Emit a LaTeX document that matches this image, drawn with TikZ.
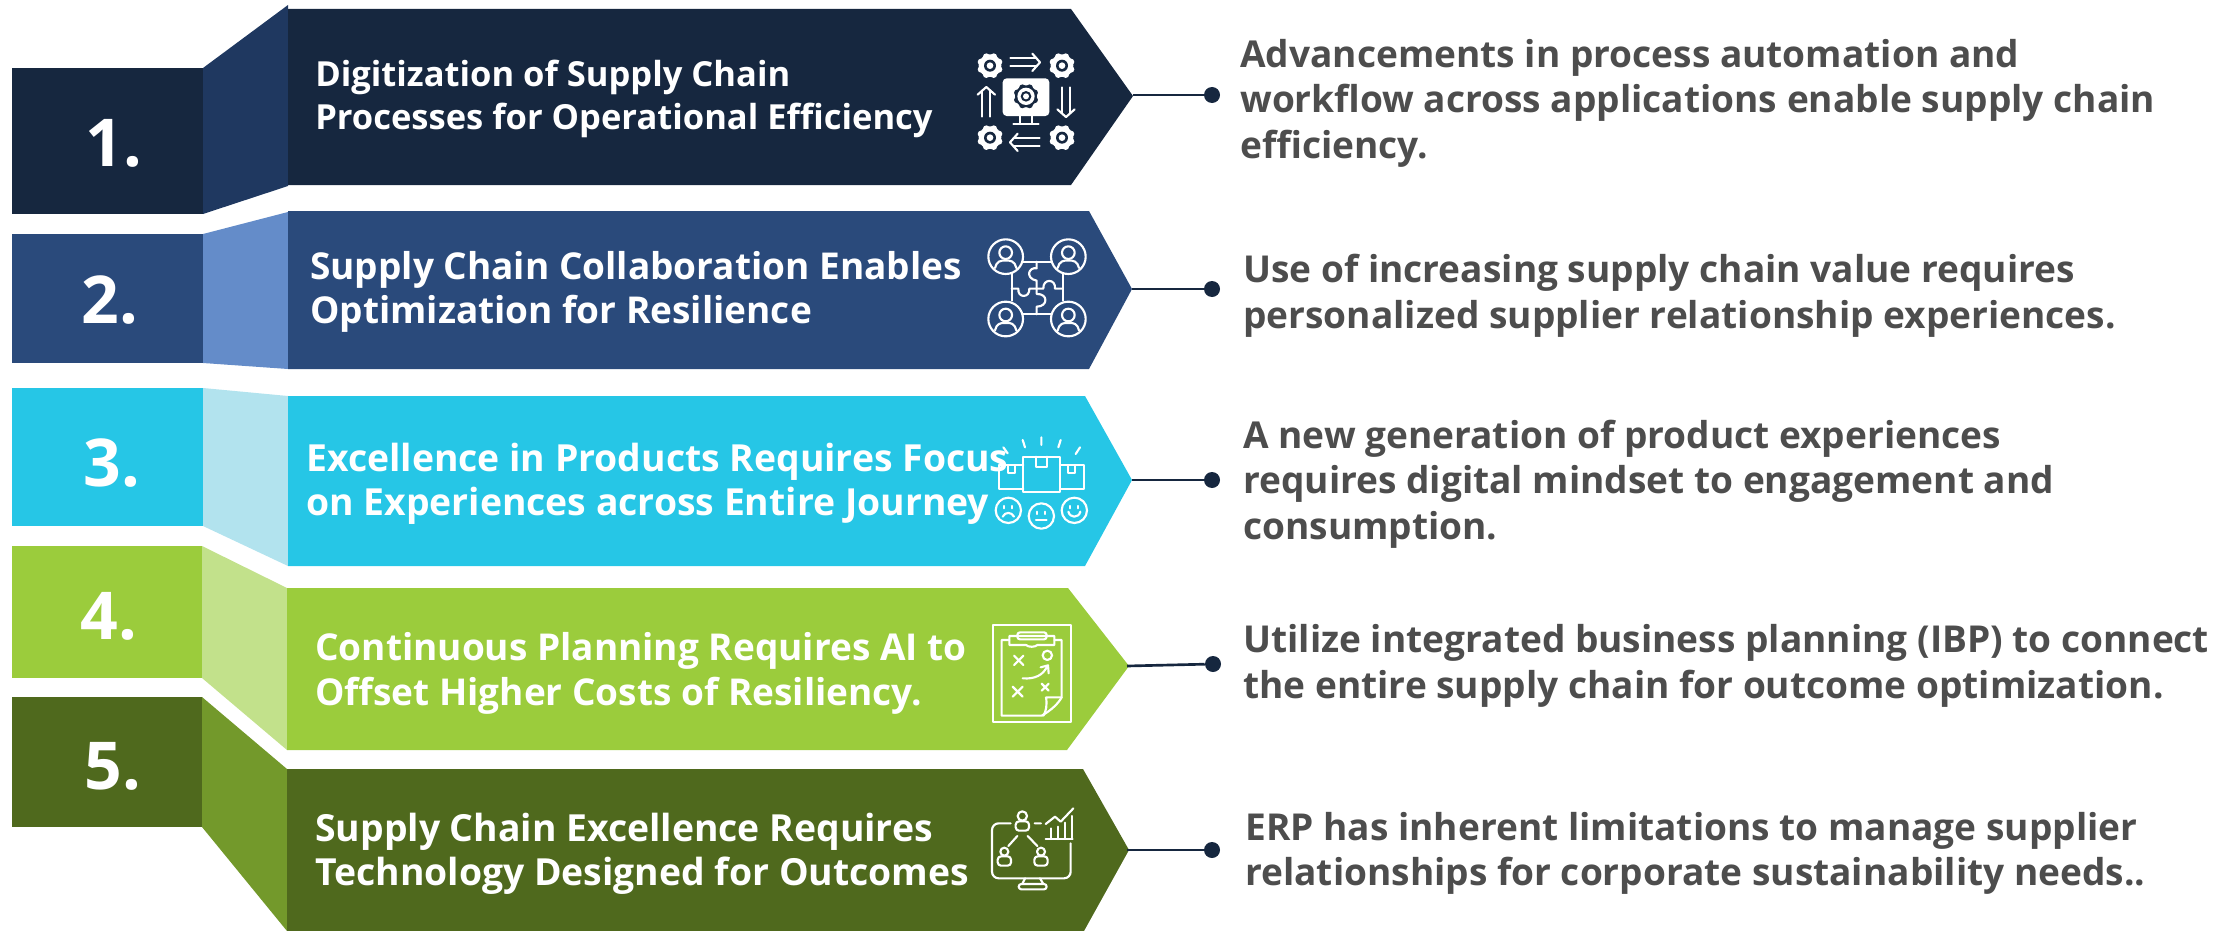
\documentclass[tikz,border=0pt]{standalone}
\usepackage{fontspec}
\setmainfont{Open Sans}
\definecolor{cA}{HTML}{16273F}\definecolor{wA}{HTML}{1F3860}
\definecolor{cB}{HTML}{2A4A7B}\definecolor{wB}{HTML}{648CC9}
\definecolor{cC}{HTML}{26C6E6}\definecolor{wC}{HTML}{B2E3EE}
\definecolor{cD}{HTML}{9BCC3C}\definecolor{wD}{HTML}{C2E18B}
\definecolor{cE}{HTML}{4F691D}\definecolor{wE}{HTML}{73992B}
\definecolor{txtgray}{HTML}{4D4D4D}
\tikzset{
 numlabel/.style={text=white,font=\bfseries\fontsize{49.5pt}{50pt}\selectfont,inner sep=0,anchor=base},
 title/.style={text=white,font=\bfseries\fontsize{28pt}{33.2pt}\selectfont,inner sep=0,anchor=west,align=left},
 titlemid/.style={text=white,font=\bfseries\fontsize{27.75pt}{33.2pt}\selectfont,inner sep=0,anchor=west,align=left},
 titlesmall/.style={text=white,font=\bfseries\fontsize{25.9pt}{32pt}\selectfont,inner sep=0,anchor=west,align=left},
 desc/.style={text=txtgray,font=\bfseries\fontsize{27.8pt}{34.2pt}\selectfont,inner sep=0,anchor=west,align=left},
 dotn/.style={circle,fill=cA,minimum size=12pt,inner sep=0},
 conn/.style={draw=cA,line width=2pt},
 ico/.style={draw=white,line width=1.6pt,line cap=round,line join=round},
 zoomgrid/.style={x=0.25pt,y=-0.25pt},
}
\newcommand{\flowergear}[4]{% x y fillcolor hole
 \fill[#3] (#1,#2) circle[radius=#4];
 \foreach \a in {0,45,...,315}{\fill[#3] (#1,#2)+(\a+22.5:#4*0.85) circle[radius=#4*0.3];}
}
\newcommand{\blockarrow}[3]{% cx cy rotation; points right by default
 \begin{scope}[shift={(#1,#2)},rotate=#3]
  \draw[ico] (-44,-12) -- (34,-12) (-44,12) -- (34,12);
  \draw[ico] (22,-26) -- (45,0) -- (22,26);
 \end{scope}}
\newcommand{\person}[2]{%
 \draw[ico] (#1,#2-12) circle[radius=19];
 \draw[ico] (#1-32,#2+34) .. controls (#1-28,#2+14) and (#1-14,#2+10) .. (#1,#2+12) .. controls (#1+14,#2+10) and (#1+28,#2+14) .. (#1+32,#2+34);
 \draw[ico] (#1,#2) circle[radius=52];}
\newcommand{\boxperson}[4]{% x headY headR halfwidth
 \draw[ico] (#1,#2) circle[radius=#3];
 \draw[ico,rounded corners=2.5pt] (#1-#4,#2+#3+30) -- (#1-#4,#2+#3+2) -- (#1+#4,#2+#3+2) -- (#1+#4,#2+#3+30) -- cycle;}
\begin{document}
\begin{tikzpicture}[x=0.75pt,y=-0.75pt]
\useasboundingbox (0,0) rectangle (2233,931);
% wedges and boxes
\fill[wA] (203,68) -- (288,5) -- (288,186) -- (203,214) -- cycle;
\fill[cA] (12,68) rectangle (203,214);
\fill[wB] (203,234) -- (288,212) -- (288,369) -- (203,363) -- cycle;
\fill[cB] (12,234) rectangle (203,363);
\fill[wC] (203,388) -- (288,396) -- (288,566) -- (203,526) -- cycle;
\fill[cC] (12,388) rectangle (203,526);
\fill[wD] (202,546) -- (287,588) -- (287,750) -- (202,678) -- cycle;
\fill[cD] (12,546) rectangle (202,678);
\fill[wE] (202,697) -- (287,769) -- (287,931) -- (202,827) -- cycle;
\fill[cE] (12,697) rectangle (202,827);
% banners
\fill[cA] (288,9) -- (1071,9) -- (1133,96) -- (1071,185) -- (288,185) -- cycle;
\fill[cB] (288,211) -- (1089,211) -- (1132,289) -- (1089,369) -- (288,369) -- cycle;
\fill[cC] (288,396) -- (1085,396) -- (1132,480) -- (1085,566) -- (288,566) -- cycle;
\fill[cD] (287,588) -- (1068,588) -- (1129,666) -- (1067,750) -- (287,750) -- cycle;
\fill[cE] (287,769) -- (1083,769) -- (1129,850) -- (1084,931) -- (287,931) -- cycle;
% connectors
\coordinate (tip1) at (1133,95);\coordinate (tip2) at (1132,289);\coordinate (tip3) at (1132,480);\coordinate (tip4) at (1127,666);\coordinate (tip5) at (1127,850);
\node[dotn] (dot1) at (1212,95) {};
\node[dotn] (dot2) at (1212,289) {};
\node[dotn] (dot3) at (1212,480) {};
\node[dotn] (dot4) at (1213,664) {};
\node[dotn] (dot5) at (1212,850) {};
\foreach \i in {1,...,5}{\draw[conn] (tip\i) -- (dot\i);}
% numbers
\node[numlabel] (n1) at (114,166) {1.};
\node[numlabel] (n2) at (110,323) {2.};
\node[numlabel] (n3) at (112,486) {3.};
\node[numlabel] (n4) at (109,639) {4.};
\node[numlabel] (n5) at (113,789) {5.};
% titles
\node[titlesmall] (t1) at (315,99) {Digitization of Supply Chain\\Processes for Operational Efficiency};
\node[titlemid] (t2) at (310,292) {Supply Chain Collaboration Enables\\Optimization for Resilience};
\node[title] (t3) at (306,483.5) {Excellence in Products Requires Focus\\on Experiences across Entire Journey};
\node[titlemid] (t4) at (315,673.5) {Continuous Planning Requires AI to\\Offset Higher Costs of Resiliency.};
\node[title] (t5) at (315,853.5) {Supply Chain Excellence Requires\\Technology Designed for Outcomes};
% descriptions
\node[desc] (d1) at (1240,103) {Advancements in process automation and\\workflow across applications enable supply chain\\efficiency.};
\node[desc] (d2) at (1243,295.5) {Use of increasing supply chain value requires\\personalized supplier relationship experiences.};
\node[desc] (d3) at (1243,484) {A new generation of product experiences\\requires digital mindset to engagement and\\consumption.};
\node[desc] (d4) at (1243,666) {Utilize integrated business planning (IBP) to connect\\the entire supply chain for outcome optimization.};
\node[desc] (d5) at (1245,853.5) {ERP has inherent limitations to manage supplier\\relationships for corporate sustainability needs..};
% icon 1
\begin{scope}[shift={(940,0)},zoomgrid]
 \foreach \p/\q in {150/197,366/197,150/413,366/413}{
  \flowergear{\p}{\q}{white}{34}
  \fill[cA] (\p,\q) circle[radius=18];
  \fill[white] (\p,\q) circle[radius=10];
 }
 \blockarrow{255}{187}{0}
 \blockarrow{378}{306}{-90}
 \blockarrow{255}{427}{180}
 \blockarrow{139}{306}{90}
 \fill[white,rounded corners=3pt] (188,235) rectangle (328,348);
 \flowergear{258}{289}{cA}{33}
 \fill[white] (258,289) circle[radius=26];
 \fill[cA] (258,289) circle[radius=16];
 \fill[white] (258,289) circle[radius=9];
 \draw[ico] (240,348) -- (240,371) (275,348) -- (275,371) (220,371) -- (296,371);
\end{scope}
% icon 2
\begin{scope}[shift={(960,210)},zoomgrid]
 \person{137}{140}\person{325}{140}\person{137}{327}\person{325}{327}
 \draw[ico] (190,155) -- (272,155) (155,190) -- (155,272) (308,190) -- (308,272) (190,313) -- (272,313);
 \draw[ico] (230,155) -- (230,175) .. controls (205,170) and (195,205) .. (230,212) -- (230,252) .. controls (265,250) and (265,290) .. (230,290) -- (230,313);
 \draw[ico] (155,236) -- (175,236) .. controls (172,265) and (210,265) .. (208,236) -- (250,236) .. controls (248,205) and (288,205) .. (285,236) -- (308,236);
\end{scope}
% icon 3
\begin{scope}[shift={(960,400)},zoomgrid]
 \draw[ico] (143,160) -- (130,142) (195,142) -- (188,120) (244,135) -- (244,112) (295,142) -- (302,120) (347,162) -- (360,142);
 \draw[ico] (190,170) rectangle (300,277);
 \draw[ico] (228,170) -- (228,200) -- (262,200) -- (262,170);
 \draw[ico] (190,195) -- (117,195) -- (117,268) -- (190,268);
 \draw[ico] (143,195) -- (143,220) -- (165,220) -- (165,195);
 \draw[ico] (300,195) -- (373,195) -- (373,268) -- (300,268);
 \draw[ico] (323,195) -- (323,220) -- (345,220) -- (345,195);
 \draw[ico] (145,331) circle[radius=38] (244,348) circle[radius=38] (343,331) circle[radius=38];
 \draw[ico] (133,318) -- (133,325) (157,318) -- (157,325) (232,335) -- (232,342) (256,335) -- (256,342) (331,318) -- (331,325) (355,318) -- (355,325);
 \draw[ico] (128,350) .. controls (135,335) and (155,335) .. (162,350);
 \draw[ico] (228,360) -- (260,360);
 \draw[ico] (325,335) .. controls (330,355) and (356,355) .. (361,335);
\end{scope}
% icon 4
\begin{scope}[shift={(960,590)},zoomgrid]
 \draw[ico,line cap=butt] (98,106) rectangle (334,397);
 \draw[ico] (148,150) -- (125,150) -- (125,377) -- (245,377) .. controls (275,360) and (295,340) .. (305,322) -- (305,150) -- (283,150);
 \draw[ico] (148,165) -- (148,138) -- (283,138) -- (283,165) -- (232,165) .. controls (225,172) and (205,172) .. (198,165) -- cycle;
 \draw[ico,rounded corners=2pt] (172,148) -- (172,127) -- (260,127) -- (260,148) -- cycle;
 \draw[ico] (162,197) -- (190,225) (190,197) -- (162,225);
 \draw[ico] (158,290) -- (188,320) (188,290) -- (158,320);
 \draw[ico] (245,281) -- (266,302) (266,281) -- (245,302);
 \draw[ico] (262,196) circle[radius=14];
 \draw[ico] (188,265) .. controls (225,268) and (250,255) .. (262,228);
 \draw[ico] (242,232) -- (264,226) -- (266,250);
 \draw[ico] (258,322) -- (305,322) (258,322) .. controls (262,345) and (258,365) .. (250,377);
\end{scope}
% icon 5
\begin{scope}[shift={(960,770)},zoomgrid]
 \draw[ico,rounded corners=5pt] (152,160) -- (96,160) -- (96,325) -- (332,325) -- (332,220);
 \draw[ico] (195,325) -- (187,342) (240,325) -- (250,342);
 \draw[ico,rounded corners=2pt] (176,342) rectangle (260,358);
 \boxperson{187}{138}{14}{20}
 \boxperson{133}{245}{12}{20}
 \boxperson{243}{245}{12}{20}
 \draw[ico] (172,198) -- (145,228) (203,198) -- (232,228) (224,160) -- (243,160);
 \draw[ico] (257,207) -- (338,207) (272,207) -- (272,175) (295,207) -- (295,170) (315,207) -- (315,158) (337,207) -- (337,138);
 \draw[ico] (257,162) -- (285,140) -- (302,155) -- (340,115);
\end{scope}
\end{tikzpicture}
\end{document}
